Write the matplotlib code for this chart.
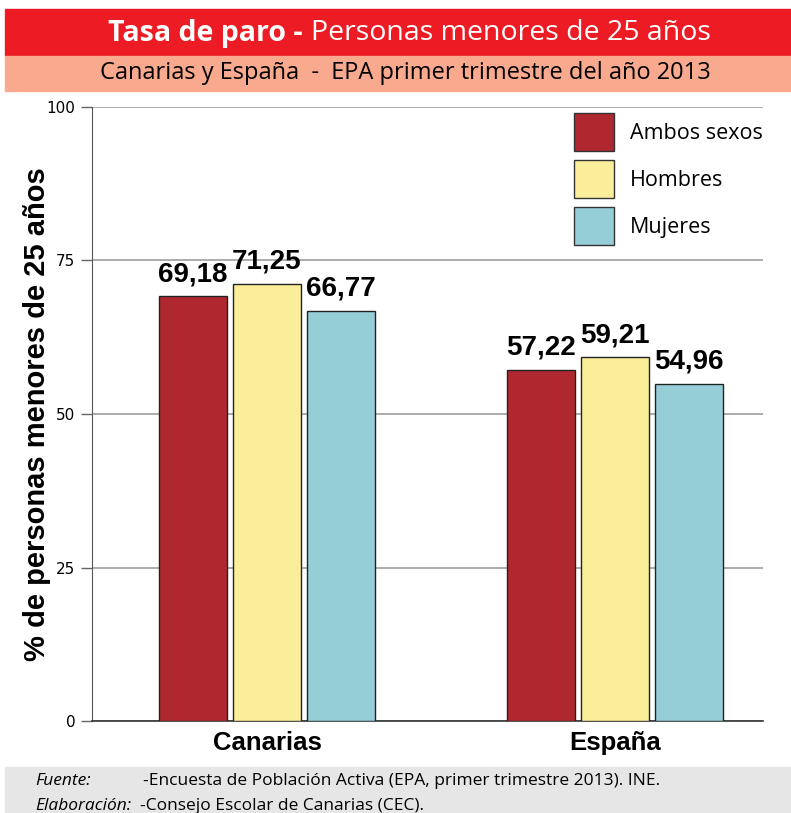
import numpy as np
import matplotlib.pyplot as plt
from matplotlib.patches import Rectangle, Patch

# Datos
regiones = ["Canarias", "España"]
series = ["Ambos sexos", "Hombres", "Mujeres"]
ambos = [69.18, 57.22]
hombres = [71.25, 59.21]
mujeres = [66.77, 54.96]
colores = ["#B0282F", "#FBEE9A", "#96CED8"]
yticks = [0, 25, 50, 75, 100]

W, H = 791, 813
fig = plt.figure(figsize=(W / 100, H / 100), dpi=100)

# Cabecera
fig.patches.append(Rectangle((5 / W, 1 - 56 / H), 1, 47 / H, transform=fig.transFigure,
                             color="#ED1C24", zorder=0))
fig.patches.append(Rectangle((5 / W, 1 - 91 / H), 1, 35 / H, transform=fig.transFigure,
                             color="#F9A98E", zorder=0))
t1 = fig.text(108 / W, 1 - 33 / H, "Tasa de paro -", color="white", fontsize=20.5,
              fontweight="bold", family="Open Sans", va="center", ha="left")
fig.canvas.draw()
bb = t1.get_window_extent()
fig.text((bb.x1 + 8) / W, 1 - 33 / H, "Personas menores de 25 años", color="white",
         fontsize=20.5, family="Open Sans", va="center", ha="left")
fig.text(405 / W, 1 - 73 / H, "Canarias y España  -  EPA primer trimestre del año 2013",
         color="black", fontsize=17, family="Open Sans", va="center", ha="center")

# Pie
fig.patches.append(Rectangle((5 / W, 0), 1, 46 / H, transform=fig.transFigure,
                             color="#E6E6E6", zorder=0))
fig.text(35 / W, 1 - 781 / H, "Fuente:", fontsize=12.5, family="Open Sans",
         style="italic", va="center")
fig.text(143 / W, 1 - 781 / H, "-Encuesta de Población Activa (EPA, primer trimestre 2013). INE.",
         fontsize=12.5, family="Open Sans", va="center")
fig.text(35 / W, 1 - 806 / H, "Elaboración:", fontsize=12.5, family="Open Sans",
         style="italic", va="center")
fig.text(140 / W, 1 - 806 / H, "-Consejo Escolar de Canarias (CEC).",
         fontsize=12.5, family="Open Sans", va="center")

# Grafico
ax = fig.add_axes([92 / W, 1 - 721 / H, 671 / W, 614 / H])
x = np.arange(len(regiones))
ancho = 0.195
paso = 0.2126
for i, (vals, nombre) in enumerate(zip([ambos, hombres, mujeres], series)):
    pos = x + (i - 1) * paso
    ax.bar(pos, vals, ancho, color=colores[i], edgecolor="#222222", linewidth=1,
           label=nombre, zorder=3)
    for px, v in zip(pos, vals):
        ax.text(px, v + 1.5, f"{v:.2f}".replace(".", ","), ha="center", va="bottom",
                fontsize=20, fontweight="bold", family="Liberation Sans")

ax.set_ylim(0, 100)
ax.set_xlim(-0.503, 1.425)
ax.set_yticks(yticks)
ax.set_yticklabels([str(t) for t in yticks], fontsize=11, family="DejaVu Sans")
ax.set_xticks(x)
ax.set_xticklabels(regiones, fontsize=18.5, fontweight="bold", family="Liberation Sans")
ax.tick_params(axis="x", length=0, pad=7)
ax.tick_params(axis="y", length=8, width=1, color="#666666", pad=4)
ax.grid(axis="y", color="#A6A6A6", linewidth=1.3, zorder=0)
for s in ["top", "right"]:
    ax.spines[s].set_visible(False)
ax.spines["left"].set_color("#555555")
ax.spines["bottom"].set_color("#333333")
ax.spines["bottom"].set_linewidth(1.2)
ax.set_ylabel("% de personas menores de 25 años", fontsize=21, fontweight="bold",
              family="Liberation Sans", labelpad=-3)

handles = [Patch(facecolor=c, edgecolor="#333333", label=s) for c, s in zip(colores, series)]
ax.legend(handles=handles, loc="upper right", bbox_to_anchor=(1.0, 0.99), frameon=False,
          prop={"family": "Open Sans", "size": 15.5}, handlelength=1.85,
          handleheight=2.3, labelspacing=0.45, handletextpad=0.75, borderaxespad=0,
          borderpad=0)

fig.savefig("out.png", dpi=100)
